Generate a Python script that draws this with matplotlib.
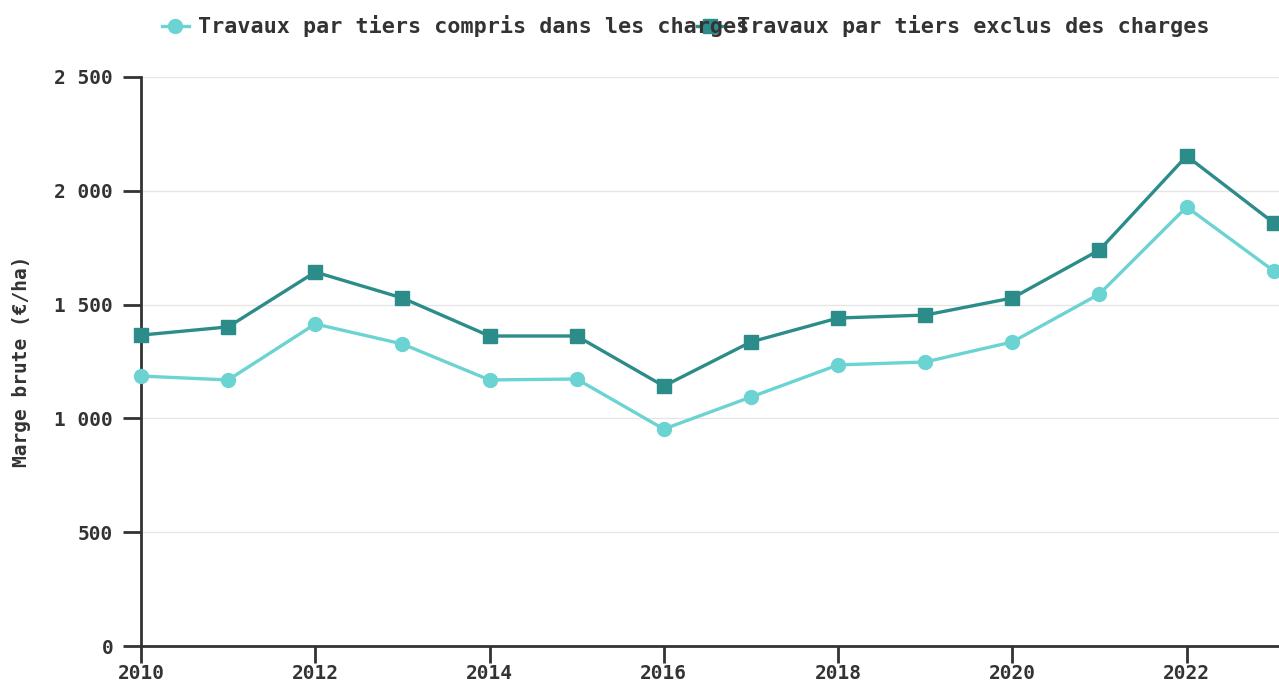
import matplotlib.pyplot as plt
from matplotlib.lines import Line2D
from matplotlib.ticker import FuncFormatter, MultipleLocator

years = list(range(2010, 2024))
compris = [1186, 1169, 1415, 1327, 1169, 1173, 953, 1094, 1235, 1248, 1336, 1547, 1929, 1648]
exclus = [1366, 1402, 1643, 1529, 1362, 1362, 1142, 1336, 1441, 1454, 1529, 1740, 2153, 1859]
labels = ["Travaux par tiers compris dans les charges", "Travaux par tiers exclus des charges"]

light = "#6cd3d3"
dark = "#2b8c8a"
txt = "#333333"
plt.rcParams['font.family'] = ['DejaVu Sans Mono']
plt.rcParams['font.weight'] = 'bold'

fig = plt.figure(figsize=(12.79, 6.82), dpi=100)
ax = fig.add_axes([141 / 1279, 1 - 646 / 682, 1 - 141 / 1279, (646 - 77) / 682])

ax.plot(years, compris, color=light, lw=2.4, marker='o', ms=10, clip_on=False, zorder=3)
ax.plot(years, exclus, color=dark, lw=2.4, marker='s', ms=10, clip_on=False, zorder=4)

ax.set_xlim(2010, 2023.06)
ax.set_ylim(0, 2500)
ax.yaxis.set_major_locator(MultipleLocator(500))
ax.xaxis.set_major_locator(MultipleLocator(2))
ax.yaxis.set_major_formatter(FuncFormatter(lambda v, p: f"{v:,.0f}".replace(",", " ")))
ax.grid(axis='y', color='#e6e6e6', lw=1)
ax.set_axisbelow(True)
for s in ['top', 'right']:
    ax.spines[s].set_visible(False)
for s in ['left', 'bottom']:
    ax.spines[s].set_linewidth(2)
    ax.spines[s].set_color(txt)
ax.tick_params(axis='both', colors=txt, labelsize=14, width=2)
ax.tick_params(axis='y', length=13, pad=7)
ax.tick_params(axis='x', length=12, pad=1)
ax.set_ylabel("Marge brute (€/ha)", fontsize=14, color=txt, fontweight='bold')
ax.yaxis.set_label_coords((31 - 141) / 1138, 0.5)

# legend drawn by hand to keep the overlap of the original
ly = 1 - 26 / 682
fig.add_artist(Line2D([162 / 1279, 189 / 1279], [ly, ly], color=light, lw=2.4,
                      transform=fig.transFigure))
fig.add_artist(Line2D([175 / 1279], [ly], color=light, marker='o', ms=10,
                      transform=fig.transFigure))
fig.add_artist(Line2D([697 / 1279, 723 / 1279], [ly, ly], color=dark, lw=2.4,
                      transform=fig.transFigure))
fig.add_artist(Line2D([710 / 1279], [ly], color=dark, marker='s', ms=10,
                      transform=fig.transFigure))
fig.text(198 / 1279, ly, labels[0], fontsize=15.7, color=txt, va='center')
fig.text(737 / 1279, ly, labels[1], fontsize=15.7, color=txt, va='center')

fig.savefig("out.png", dpi=100)
